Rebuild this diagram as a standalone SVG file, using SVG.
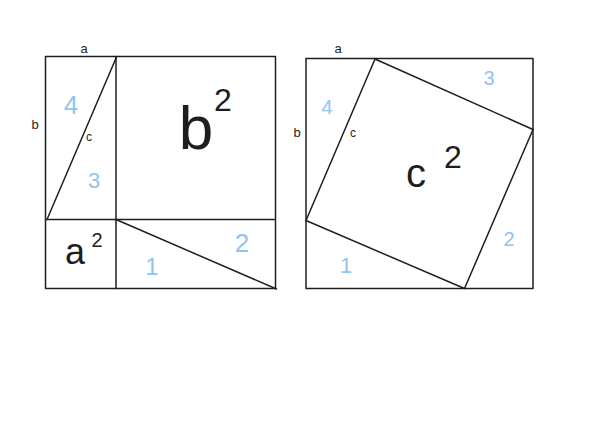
<svg xmlns="http://www.w3.org/2000/svg" width="590" height="443" viewBox="0 0 590 443">
<style>
.ln{fill:none;stroke:#1e1e1e;stroke-width:1.5;stroke-linecap:round;stroke-linejoin:round}
.k{font-family:"Liberation Sans",Arial,sans-serif;fill:#1e1e1e;text-anchor:middle}
.bl{font-family:"Liberation Sans",Arial,sans-serif;fill:#8fc3f3;text-anchor:middle}
</style>
<rect width="590" height="443" fill="#ffffff"/>
<g id="left-figure">
<g id="left-lines" class="ln">
<rect x="45.5" y="56.5" width="230" height="232"/>
<line x1="116" y1="56.5" x2="116" y2="288.5"/>
<line x1="45.5" y1="219.5" x2="275.5" y2="219.5"/>
<line x1="116.5" y1="57" x2="47" y2="219.5"/>
<line x1="116" y1="219.5" x2="276.5" y2="289"/>
</g>
<g id="left-labels">
<text class="k" x="84" y="53" font-size="13">a</text>
<text class="k" x="35" y="129" font-size="13">b</text>
<text class="k" x="89" y="141" font-size="12">c</text>
<text class="bl" x="71" y="114" font-size="26">4</text>
<text class="bl" x="94" y="188" font-size="22">3</text>
<text class="k" x="196" y="149" font-size="62">b</text>
<text class="k" x="223" y="111" font-size="32">2</text>
<text class="k" x="75" y="264" font-size="36">a</text>
<text class="k" x="97" y="247" font-size="20">2</text>
<text class="bl" x="242" y="252" font-size="26">2</text>
<text class="bl" x="152" y="275" font-size="24">1</text>
</g>
</g>
<g id="right-figure">
<g id="right-lines" class="ln">
<rect x="306" y="58.5" width="227" height="230"/>
<polygon points="375,59 533,129.5 464.5,288.5 306,220.5"/>
</g>
<g id="right-labels">
<text class="k" x="338" y="53" font-size="13">a</text>
<text class="k" x="297" y="137" font-size="13">b</text>
<text class="k" x="353" y="137" font-size="12">c</text>
<text class="bl" x="327" y="114" font-size="20">4</text>
<text class="bl" x="489" y="85" font-size="20">3</text>
<text class="bl" x="509" y="246" font-size="20">2</text>
<text class="bl" x="346" y="273" font-size="22">1</text>
<text class="k" x="416" y="187" font-size="40">c</text>
<text class="k" x="453" y="168" font-size="32">2</text>
</g>
</g>
</svg>
